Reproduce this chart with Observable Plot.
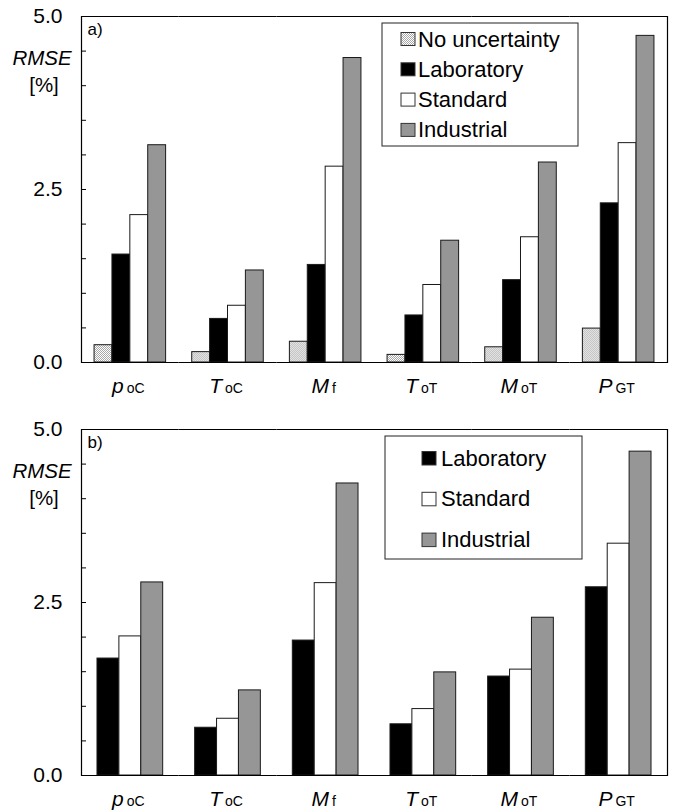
<!DOCTYPE html>
<html><head><meta charset="utf-8">
<script src="https://cdn.jsdelivr.net/npm/d3@7"></script>
<script src="https://cdn.jsdelivr.net/npm/@observablehq/plot@0.6"></script>
<style>
body{margin:0;background:#fff;}
#chart svg{display:block;}
</style></head><body><div id="chart"></div>
<script>
// ---- data ----
const catMain = ["p", "T", "M", "T", "M", "P"];
const catSub = ["oC", "oC", "f", "oT", "oT", "GT"];
const categories = catMain.map((m, i) => m + " " + catSub[i]);

const seriesTop = ["No uncertainty", "Laboratory", "Standard", "Industrial"];
const seriesBottom = ["Laboratory", "Standard", "Industrial"];

// panel a)
const topNoUncertainty = [0.25, 0.15, 0.30, 0.11, 0.22, 0.49];
const topLaboratory    = [1.56, 0.63, 1.41, 0.68, 1.19, 2.30];
const topStandard      = [2.13, 0.82, 2.83, 1.12, 1.81, 3.17];
const topIndustrial    = [3.14, 1.33, 4.40, 1.76, 2.89, 4.72];
// panel b)
const botLaboratory = [1.69, 0.69, 1.95, 0.74, 1.43, 2.72];
const botStandard   = [2.01, 0.82, 2.78, 0.96, 1.53, 3.35];
const botIndustrial = [2.79, 1.23, 4.22, 1.49, 2.28, 4.68];

const yTicks = [0, 0.5, 1, 1.5, 2, 2.5, 3, 3.5, 4, 4.5, 5];
const yTickLabels = [0, 2.5, 5];
const yTitle = "RMSE";
const yUnit = "[%]";

// ---- styles ----
const fills = {
  "No uncertainty": "url(#dots)",
  "Laboratory": "#000000",
  "Standard": "#ffffff",
  "Industrial": "#969696"
};
const FONT = "'Liberation Sans', Arial, Helvetica, sans-serif";

function panel({seriesNames, values, tag, height, marginTop, marginBottom, legend}) {
  const data = [];
  seriesNames.forEach((s, j) => categories.forEach((c, i) =>
    data.push({cat: c, series: s, value: values[j][i]})));
  const svg = Plot.plot({
    width: 677, height, marginLeft: 81, marginRight: 10, marginTop, marginBottom,
    style: {fontFamily: FONT, fontSize: "20px", color: "#000", background: "#fff", overflow: "visible"},
    fx: {domain: categories, padding: 0, axis: null, round: false},
    x: {domain: seriesNames, paddingInner: 0, paddingOuter: 0.73, axis: null, round: false},
    y: {domain: [0, 5], axis: null},
    color: {domain: seriesNames, range: seriesNames.map(s => fills[s])},
    marks: [
      Plot.barY(data, {fx: "cat", x: "series", y: "value", fill: "series", stroke: "#1a1a1a", strokeWidth: 1}),
      Plot.ruleY([0, 5], {stroke: "#000", strokeWidth: 1.2}),
      Plot.frame({anchor: "left", facetAnchor: "left", strokeWidth: 1.2}),
      Plot.frame({anchor: "right", facetAnchor: "right", strokeWidth: 1.2}),
      Plot.axisY(yTicks, {tickSize: -5, fill: "none", label: null}),
      Plot.axisY(yTickLabels, {tickSize: 0, tickPadding: 19, tickFormat: d3.format(".1f"), fontSize: 21, label: null}),
      Plot.text([{cat: categories[0], t: tag}], {fx: "cat", text: "t", frameAnchor: "top-left", dx: 6, dy: 6, lineAnchor: "top", textAnchor: "start", fontSize: 17}),
      Plot.text(categories, {fx: d => d, text: d => d, frameAnchor: "bottom", dy: 30, lineAnchor: "bottom", fontSize: 21})
    ]
  });
  const s = d3.select(svg);
  // pattern for "No uncertainty"
  const pat = s.insert("defs", ":first-child").append("pattern")
    .attr("id", "dots").attr("width", 2).attr("height", 2).attr("patternUnits", "userSpaceOnUse");
  pat.append("rect").attr("width", 2).attr("height", 2).attr("fill", "#ffffff");
  pat.append("rect").attr("width", 1).attr("height", 1).attr("fill", "#a8a8a8");
  pat.append("rect").attr("x", 1).attr("y", 1).attr("width", 1).attr("height", 1).attr("fill", "#a8a8a8");

  // category labels with italic symbol + subscript
  s.selectAll("text").filter(function() { return categories.includes(this.textContent); }).each(function() {
    const t = d3.select(this);
    const idx = categories.indexOf(this.textContent);
    t.text(null).attr("dx", -2);
    t.append("tspan").attr("font-style", "italic").text(catMain[idx]);
    t.append("tspan").attr("font-size", 14).attr("dx", 3).text(catSub[idx]);
  });

  // y title
  s.append("text").attr("x", 42).attr("y", marginTop + 49).attr("text-anchor", "middle")
    .attr("font-style", "italic").attr("font-size", 20.5).attr("fill", "#000").text(yTitle);
  s.append("text").attr("x", 44).attr("y", marginTop + 76).attr("text-anchor", "middle")
    .attr("font-size", 20.5).attr("fill", "#000").text(yUnit);

  // legend
  const g = s.append("g").attr("font-size", 22).attr("font-family", FONT).attr("text-anchor", "start");
  g.append("rect").attr("x", legend.x).attr("y", legend.y).attr("width", legend.w).attr("height", legend.h)
    .attr("fill", "#fff").attr("stroke", "#222").attr("stroke-width", 1);
  seriesNames.forEach((name, i) => {
    const by = legend.base + i * legend.step;
    g.append("rect").attr("x", legend.sx).attr("y", by - 14).attr("width", 14).attr("height", legend.sh)
      .attr("fill", fills[name]).attr("stroke", "#333").attr("stroke-width", 1);
    g.append("text").attr("x", legend.tx).attr("y", by).attr("text-anchor", "start").attr("fill", "#000").text(name);
  });
  return svg;
}

const chart = document.getElementById("chart");
chart.appendChild(panel({
  seriesNames: seriesTop,
  values: [topNoUncertainty, topLaboratory, topStandard, topIndustrial],
  tag: "a)", height: 404, marginTop: 16, marginBottom: 42,
  legend: {x: 382, y: 23, w: 196, h: 123, sx: 401, sh: 13, tx: 418, base: 46.5, step: 30.3}
}));
chart.appendChild(panel({
  seriesNames: seriesBottom,
  values: [botLaboratory, botStandard, botIndustrial],
  tag: "b)", height: 408, marginTop: 25, marginBottom: 37,
  legend: {x: 385, y: 32, w: 197, h: 123, sx: 422, sh: 13.5, tx: 441, base: 61.5, step: 40.8}
}));
</script></body></html>
